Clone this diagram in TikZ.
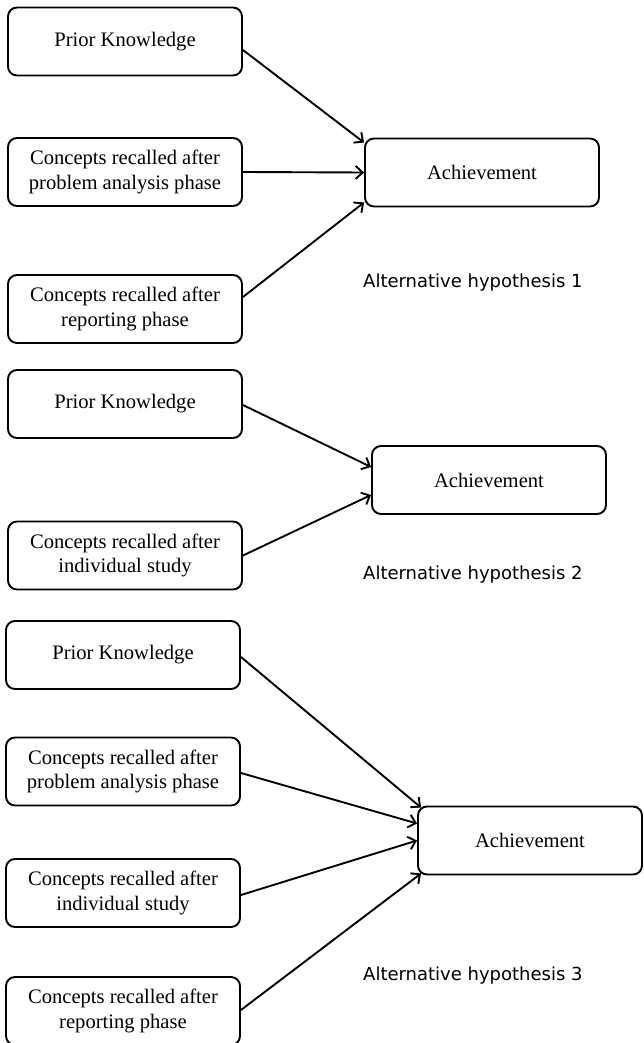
\documentclass[tikz,border=0pt]{standalone}
\usepackage{fontspec}
\setmainfont{Liberation Serif}
\newfontfamily\altfont{DejaVu Sans}
\usetikzlibrary{arrows.meta}
\begin{document}
\begin{tikzpicture}[x=1pt,y=-1pt,
  box/.style={draw,line width=1.9pt,rounded corners=9pt,minimum width=234pt,minimum height=68pt,inner sep=0pt,align=center,font=\fontsize{20.6}{24.5}\selectfont},
  arr/.style={line width=1.9pt,-{Straight Barb[length=7pt,width=13pt,line width=1.9pt]}},
  alt/.style={anchor=base west,inner sep=0pt,font=\altfont\fontsize{18}{21}\selectfont}]
\useasboundingbox (0,0) rectangle (644,1043);
% Section 1
\node[box] (pk1) at (125,41.5) {Prior Knowledge};
\node[box] (pa1) at (125,172) {Concepts recalled after\\problem analysis phase};
\node[box] (rp1) at (125,309) {Concepts recalled after\\reporting phase};
\node[box] (ach1) at (482,172.5) {Achievement};
\node[alt] (h1) at (363,287) {Alternative hypothesis 1};
\draw[arr] ([yshift=-8.5pt]pk1.east) -- ([yshift=-5pt]ach1.north west);
\draw[arr] (pa1.east) -- (ach1.west);
\draw[arr] ([yshift=12pt]rp1.east) -- ([yshift=5pt]ach1.south west);
% Section 2
\node[box] (pk2) at (125,404) {Prior Knowledge};
\node[box] (is2) at (125,555.5) {Concepts recalled after\\individual study};
\node[box] (ach2) at (489,480) {Achievement};
\node[alt] (h2) at (363,579) {Alternative hypothesis 2};
\draw[arr] ([yshift=-1pt]pk2.east) -- ([yshift=13pt]ach2.west);
\draw[arr] (is2.east) -- ([yshift=-15pt]ach2.west);
% Section 3
\node[box] (pk3) at (123,655) {Prior Knowledge};
\node[box] (pa3) at (123,771.5) {Concepts recalled after\\problem analysis phase};
\node[box] (is3) at (123,893) {Concepts recalled after\\individual study};
\node[box] (rp3) at (123,1011) {Concepts recalled after\\reporting phase};
\node[box,minimum width=224pt] (ach3) at (530,840.5) {Achievement};
\node[alt] (h3) at (363,980) {Alternative hypothesis 3};
\draw[arr] ([yshift=-2pt]pk3.east) -- ([xshift=4pt,yshift=-2pt]ach3.north west);
\draw[arr] ([yshift=-1.5pt]pa3.east) -- ([yshift=17pt]ach3.west);
\draw[arr] ([yshift=-2pt]is3.east) -- ([yshift=0pt]ach3.west);
\draw[arr] ([yshift=1pt]rp3.east) -- ([xshift=4pt,yshift=2pt]ach3.south west);
\end{tikzpicture}
\end{document}
